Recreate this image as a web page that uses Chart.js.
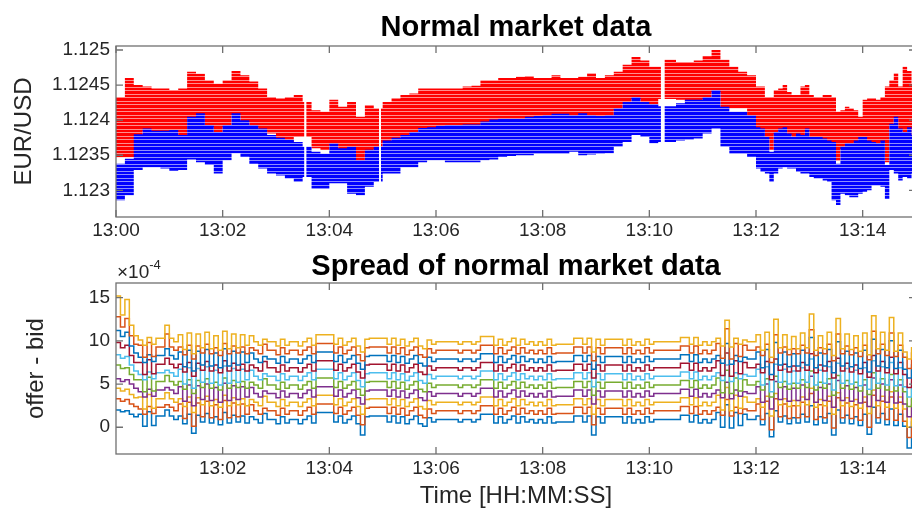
<!DOCTYPE html>
<html>
<head>
<meta charset="utf-8">
<title>Normal market data</title>
<script src="https://cdn.jsdelivr.net/npm/chart.js@4.4.1/dist/chart.umd.min.js"></script>
<style>
  html, body { margin: 0; padding: 0; background: #fff; overflow: hidden; width: 912px; height: 508px; }
  #wrap { position: relative; width: 912px; height: 508px; overflow: hidden; }
  canvas { position: absolute; left: 0; }
  #priceCanvas { top: 0; }
  #spreadCanvas { top: 250px; }
</style>
</head>
<body>
<div id="wrap">
  <canvas id="priceCanvas" width="930" height="250"></canvas>
  <canvas id="spreadCanvas" width="930" height="258"></canvas>
</div>
<script>
// ---- Order book quotes, seconds after 13:00:00 (null = no quotes) ----
const priceTimes = [
  0,10,20,30,40,50,60,70,80,90,
  100,110,120,130,140,150,160,170,180,190,
  200,210,212,213,214,220,230,240,250,260,
  270,280,290,296,297,298,300,310,320,330,
  340,350,360,370,380,390,400,410,420,430,
  440,450,460,470,480,490,500,510,520,530,
  540,550,560,570,580,590,600,610,613,614,
  617,620,630,640,650,660,670,680,690,700,
  710,720,725,730,735,740,745,750,755,760,
  765,770,775,780,785,790,795,800,805,810,
  815,820,825,830,835,840,845,850,855,860,
  865,870,875,880,885,890,895,900
];
// deepest offer level
const offerHigh = [
  1.12433,1.12460,1.12450,1.12448,1.12445,1.12445,1.12443,1.12445,1.12469,1.12466,
  1.12457,1.12452,1.12457,1.12470,1.12464,1.12455,1.12445,1.12433,1.12431,1.12433,
  1.12436,1.12426,1.12426,null,1.12426,1.12414,1.12412,1.12429,1.12419,1.12426,
  1.12405,1.12421,1.12417,1.12417,null,1.12417,1.12426,1.12431,1.12436,1.12438,
  1.12445,1.12445,1.12445,1.12445,1.12445,1.12448,1.12449,1.12457,1.12457,1.12460,
  1.12460,1.12462,1.12463,1.12460,1.12460,1.12464,1.12460,1.12460,1.12462,1.12467,
  1.12460,1.12464,1.12469,1.12479,1.12490,1.12485,1.12476,1.12476,1.12476,null,
  1.12486,1.12486,1.12483,1.12483,1.12485,1.12491,1.12500,1.12486,1.12476,1.12469,
  1.12464,1.12448,1.12448,1.12433,1.12433,1.12443,1.12445,1.12450,1.12440,1.12436,
  1.12436,1.12448,1.12450,1.12436,1.12433,1.12433,1.12436,1.12436,1.12433,1.12412,
  1.12414,1.12419,1.12417,1.12414,1.12405,1.12429,1.12431,1.12431,1.12429,1.12433,
  1.12448,1.12457,1.12467,1.12448,1.12476,1.12470,1.12452,1.12452
];
// best offer
const offerLow = [
  1.12347,1.12347,1.12347,1.12385,1.12382,1.12382,1.12383,1.12376,1.12402,1.12407,
  1.12390,1.12380,1.12390,1.12407,1.12397,1.12390,1.12385,1.12381,1.12372,1.12369,
  1.12376,1.12376,1.12376,null,1.12376,1.12360,1.12358,1.12364,1.12357,1.12359,
  1.12340,1.12355,1.12359,1.12359,null,1.12359,1.12368,1.12372,1.12376,1.12380,
  1.12386,1.12387,1.12389,1.12390,1.12390,1.12391,1.12391,1.12395,1.12398,1.12399,
  1.12399,1.12399,1.12402,1.12403,1.12404,1.12406,1.12406,1.12404,1.12407,1.12404,
  1.12403,1.12404,1.12414,1.12423,1.12430,1.12423,1.12420,1.12430,1.12430,null,
  1.12430,1.12430,1.12429,1.12426,1.12426,1.12430,1.12440,1.12416,1.12417,1.12417,
  1.12404,1.12387,1.12385,1.12373,1.12358,1.12380,1.12385,1.12387,1.12378,1.12373,
  1.12378,1.12376,1.12385,1.12373,1.12373,1.12373,1.12371,1.12368,1.12366,1.12342,
  1.12359,1.12364,1.12364,1.12368,1.12373,1.12373,1.12368,1.12366,1.12364,1.12368,
  1.12340,1.12392,1.12402,1.12385,1.12380,1.12387,1.12376,1.12376
];
// best bid
const bidHigh = [
  1.12338,1.12345,1.12380,1.12388,1.12385,1.12385,1.12386,1.12379,1.12405,1.12410,
  1.12393,1.12383,1.12393,1.12410,1.12400,1.12393,1.12388,1.12379,1.12375,1.12372,
  1.12369,1.12362,1.12362,null,1.12362,1.12355,1.12352,1.12367,1.12360,1.12362,
  1.12343,1.12358,1.12362,1.12362,null,1.12362,1.12371,1.12375,1.12379,1.12383,
  1.12389,1.12390,1.12392,1.12393,1.12393,1.12394,1.12394,1.12398,1.12401,1.12402,
  1.12402,1.12402,1.12405,1.12406,1.12407,1.12409,1.12409,1.12407,1.12410,1.12407,
  1.12406,1.12407,1.12417,1.12426,1.12433,1.12426,1.12423,1.12420,1.12420,null,
  1.12420,1.12420,1.12424,1.12429,1.12429,1.12433,1.12443,1.12419,1.12412,1.12412,
  1.12407,1.12390,1.12388,1.12376,1.12355,1.12383,1.12388,1.12390,1.12381,1.12376,
  1.12381,1.12379,1.12388,1.12376,1.12376,1.12376,1.12374,1.12371,1.12369,1.12338,
  1.12362,1.12367,1.12367,1.12371,1.12376,1.12376,1.12371,1.12369,1.12367,1.12371,
  1.12336,1.12395,1.12405,1.12388,1.12383,1.12390,1.12379,1.12379
];
// deepest bid level
const bidLow = [
  1.12286,1.12293,1.12329,1.12333,1.12333,1.12331,1.12328,1.12329,1.12344,1.12340,
  1.12336,1.12324,1.12343,1.12353,1.12348,1.12338,1.12331,1.12324,1.12321,1.12317,
  1.12312,1.12319,1.12319,null,1.12319,1.12302,1.12302,1.12310,1.12310,1.12295,
  1.12293,1.12305,1.12312,1.12312,null,1.12312,1.12324,1.12324,1.12333,1.12333,
  1.12340,1.12343,1.12343,1.12340,1.12340,1.12340,1.12340,1.12343,1.12344,1.12348,
  1.12349,1.12350,1.12350,1.12352,1.12352,1.12352,1.12352,1.12355,1.12350,1.12351,
  1.12352,1.12353,1.12362,1.12369,1.12379,1.12376,1.12367,1.12369,1.12369,null,
  1.12369,1.12369,1.12371,1.12372,1.12374,1.12381,1.12388,1.12362,1.12352,1.12352,
  1.12348,1.12331,1.12326,1.12324,1.12312,1.12324,1.12331,1.12333,1.12331,1.12331,
  1.12326,1.12324,1.12324,1.12319,1.12317,1.12317,1.12314,1.12312,1.12286,1.12279,
  1.12295,1.12293,1.12290,1.12290,1.12295,1.12298,1.12300,1.12307,1.12307,1.12305,
  1.12288,1.12329,1.12324,1.12314,1.12319,1.12317,1.12324,1.12324
];

// ---- Spread per book level (offer - bid), in units of 1e-4 ----
const spreadTimes = [
  0,5,10,15,20,25,30,35,40,45,50,55,60,65,70,75,80,85,90,95,
  100,105,110,115,120,125,130,135,140,145,150,155,160,165,170,175,180,185,190,195,
  200,205,210,215,220,225,230,235,240,245,250,255,260,265,270,275,280,285,290,295,
  300,305,310,315,320,325,330,335,340,345,350,355,360,365,370,375,380,385,390,395,
  400,405,410,415,420,425,430,435,440,445,450,455,460,465,470,475,480,485,490,495,
  500,505,510,515,520,525,530,535,540,545,550,555,560,565,570,575,580,585,590,595,
  600,605,610,615,620,625,630,635,640,645,650,655,660,665,670,675,680,685,690,695,
  700,705,710,715,720,725,730,735,740,745,750,755,760,765,770,775,780,785,790,795,
  800,805,810,815,820,825,830,835,840,845,850,855,860,865,870,875,880,885,890,895,
  900
];
const spreadL1 = [
  2.0,1.8,1.9,1.5,1.2, 1.5,0.1,1.8,0.2,1.3, 1.3,2.0,1.3,0.9,1.3, 0.4,1.5,-0.7,1.4,0.6,
  1.6,0.5,1.2,0.3,1.7, 0.5,1.4,0.6,1.3,0.5, 1.2,0.9,0.5,1.6,0.9, 0.9,0.4,1.2,0.5,0.9,
  0.9,0.4,0.9,1.3,0.5, 1.7,1.7,1.7,1.7,0.6, 1.3,0.5,0.9,1.3,0.4, -0.9,1.2,1.3,1.3,1.3,
  1.3,0.6,1.3,0.5,1.2, 0.4,0.9,1.3,0.4,0.1, 1.1,0.6,0.9,0.9,0.9, 0.9,0.9,0.6,0.9,0.9,
  0.6,0.9,1.5,1.5,1.5, 0.5,1.2,0.5,0.9,1.3, 0.5,1.2,0.6,0.9,0.5, 0.9,0.5,1.2,0.5,0.6,
  0.6,0.6,0.6,1.3,1.3, 0.6,1.3,-0.9,1.2,0.5, 1.2,1.2,1.2,1.2,0.5, 1.2,0.5,0.9,0.5,1.2,
  0.6,0.9,0.9,0.9,0.9, 0.9,0.9,1.4,1.4,0.6, 1.4,0.5,0.9,0.5,0.9, 1.7,0.0,2.6,-0.1,1.7,
  0.2,1.5,0.9,0.9,1.3, 0.3,1.6,-1.1,1.9,0.6, 1.3,0.4,1.1,0.5,1.5, 0.6,2.5,0.3,1.2,0.5,
  1.6,-0.9,2.0,0.5,1.4, 0.4,1.2,0.2,1.5,-0.8, 2.3,0.5,1.6,0.3,2.1, 0.2,1.5,0.1,-2.4,0.6,
  1.0
];
const spreadL2 = [
  3.3,3.0,3.2,2.7,2.4, 2.1,1.5,2.4,1.6,2.3, 2.3,2.6,2.3,1.9,2.7, 1.0,2.9,0.1,2.8,1.2,
  3.0,1.1,2.6,0.9,3.1, 1.1,2.8,1.2,2.7,1.5, 2.6,1.9,1.5,2.2,1.9, 1.9,1.4,2.2,1.5,1.9,
  1.9,1.4,1.9,2.3,1.5, 2.7,2.7,2.7,2.7,1.6, 2.3,1.5,1.9,2.3,1.4, 0.3,2.2,2.3,2.3,2.3,
  2.3,1.6,2.3,1.5,2.2, 1.4,1.9,2.3,1.4,1.1, 2.1,1.6,1.9,1.9,1.9, 1.9,1.9,1.6,1.9,1.9,
  1.6,1.9,2.5,2.5,2.5, 1.5,2.2,1.5,1.9,2.3, 1.5,2.2,1.6,1.9,1.5, 1.9,1.5,2.2,1.5,1.6,
  1.6,1.6,1.6,2.3,2.3, 1.6,2.3,0.3,2.2,1.5, 2.2,2.2,2.2,2.2,1.5, 2.2,1.5,1.9,1.5,2.2,
  1.6,1.9,1.9,1.9,1.9, 1.9,1.9,2.4,2.4,1.6, 2.4,1.5,1.9,1.5,1.9, 2.3,1.4,3.2,1.3,2.3,
  1.6,2.1,1.9,1.9,2.7, 0.9,3.0,-0.3,3.3,1.2, 2.7,1.0,2.5,1.1,2.9, 1.2,3.9,0.9,2.6,1.1,
  3.0,-0.1,3.4,1.1,2.8, 1.0,2.6,0.8,2.9,0.0, 3.7,1.1,3.0,0.9,3.5, 0.8,2.9,0.7,-1.2,1.2,
  2.4
];
const spreadL3 = [
  4.5,4.2,4.4,3.8,3.4, 3.5,2.1,3.8,2.2,3.3, 3.3,4.0,3.3,2.9,3.3, 2.4,3.5,1.7,3.4,2.6,
  3.6,2.5,3.2,2.3,3.7, 2.5,3.4,2.6,3.3,2.5, 3.2,2.9,2.5,3.6,2.9, 2.9,2.4,3.2,2.5,2.9,
  2.9,2.4,2.9,3.3,2.5, 3.7,3.7,3.7,3.7,2.6, 3.3,2.5,2.9,3.3,2.4, 1.5,3.2,3.3,3.3,3.3,
  3.3,2.6,3.3,2.5,3.2, 2.4,2.9,3.3,2.4,2.1, 3.1,2.6,2.9,2.9,2.9, 2.9,2.9,2.6,2.9,2.9,
  2.6,2.9,3.5,3.5,3.5, 2.5,3.2,2.5,2.9,3.3, 2.5,3.2,2.6,2.9,2.5, 2.9,2.5,3.2,2.5,2.6,
  2.6,2.6,2.6,3.3,3.3, 2.6,3.3,1.5,3.2,2.5, 3.2,3.2,3.2,3.2,2.5, 3.2,2.5,2.9,2.5,3.2,
  2.6,2.9,2.9,2.9,2.9, 2.9,2.9,3.4,3.4,2.6, 3.4,2.5,2.9,2.5,2.9, 3.7,2.0,4.6,1.9,3.7,
  2.2,3.5,2.9,2.9,3.3, 2.3,3.6,1.3,3.9,2.6, 3.3,2.4,3.1,2.5,3.5, 2.6,4.5,2.3,3.2,2.5,
  3.6,1.5,4.0,2.5,3.4, 2.4,3.2,2.2,3.5,1.6, 4.3,2.5,3.6,2.3,4.1, 2.2,3.5,2.1,0.0,2.6,
  3.0
];
const spreadL4 = [
  5.6,5.3,5.5,5.0,4.5, 4.1,3.5,4.4,3.6,4.3, 4.3,4.6,4.3,3.9,4.7, 3.0,4.9,2.5,4.8,3.2,
  5.0,3.1,4.6,2.9,5.1, 3.1,4.8,3.2,4.7,3.5, 4.6,3.9,3.5,4.2,3.9, 3.9,3.4,4.2,3.5,3.9,
  3.9,3.4,3.9,4.3,3.5, 4.7,4.7,4.7,4.7,3.6, 4.3,3.5,3.9,4.3,3.4, 2.7,4.2,4.3,4.3,4.3,
  4.3,3.6,4.3,3.5,4.2, 3.4,3.9,4.3,3.4,3.1, 4.1,3.6,3.9,3.9,3.9, 3.9,3.9,3.6,3.9,3.9,
  3.6,3.9,4.5,4.5,4.5, 3.5,4.2,3.5,3.9,4.3, 3.5,4.2,3.6,3.9,3.5, 3.9,3.5,4.2,3.5,3.6,
  3.6,3.6,3.6,4.3,4.3, 3.6,4.3,2.7,4.2,3.5, 4.2,4.2,4.2,4.2,3.5, 4.2,3.5,3.9,3.5,4.2,
  3.6,3.9,3.9,3.9,3.9, 3.9,3.9,4.4,4.4,3.6, 4.4,3.5,3.9,3.5,3.9, 4.3,3.4,5.2,3.3,4.3,
  3.6,4.1,3.9,3.9,4.7, 2.9,5.0,2.1,5.3,3.2, 4.7,3.0,4.5,3.1,4.9, 3.2,5.9,2.9,4.6,3.1,
  5.0,2.3,5.4,3.1,4.8, 3.0,4.6,2.8,4.9,2.4, 5.7,3.1,5.0,2.9,5.5, 2.8,4.9,2.7,1.2,3.2,
  4.4
];
const spreadL5 = [
  7.2,6.8,6.9,6.1,5.5, 5.5,4.1,5.8,4.2,5.3, 5.3,6.0,5.3,4.9,5.3, 4.4,5.5,3.9,5.4,4.6,
  5.6,4.5,5.2,4.3,5.7, 4.5,5.4,4.6,5.3,4.5, 5.2,4.9,4.5,5.6,4.9, 4.9,4.4,5.2,4.5,4.9,
  4.9,4.4,4.9,5.3,4.5, 5.7,5.7,5.7,5.7,4.6, 5.3,4.5,4.9,5.3,4.4, 3.7,5.2,5.3,5.3,5.3,
  5.3,4.6,5.3,4.5,5.2, 4.4,4.9,5.3,4.4,4.1, 5.1,4.6,4.9,4.9,4.9, 4.9,4.9,4.6,4.9,4.9,
  4.6,4.9,5.5,5.5,5.5, 4.5,5.2,4.5,4.9,5.3, 4.5,5.2,4.6,4.9,4.5, 4.9,4.5,5.2,4.5,4.6,
  4.6,4.6,4.6,5.3,5.3, 4.6,5.3,3.7,5.2,4.5, 5.2,5.2,5.2,5.2,4.5, 5.2,4.5,4.9,4.5,5.2,
  4.6,4.9,4.9,4.9,4.9, 4.9,4.9,5.4,5.4,4.6, 5.4,4.5,4.9,4.5,4.9, 5.7,4.0,6.6,3.9,5.7,
  4.2,5.5,4.9,4.9,5.3, 4.3,5.6,3.5,5.9,4.6, 5.3,4.4,5.1,4.5,5.5, 4.6,6.5,4.3,5.2,4.5,
  5.6,3.7,6.0,4.5,5.4, 4.4,5.2,4.2,5.5,3.8, 6.3,4.5,5.6,4.3,6.1, 4.2,5.5,4.1,2.4,4.6,
  5.0
];
const spreadL6 = [
  8.4,8.0,8.2,7.2,6.5, 6.1,5.5,6.4,5.6,6.3, 6.3,6.6,6.3,5.9,6.7, 5.0,6.9,4.5,6.8,5.2,
  7.0,5.1,6.6,4.9,7.1, 5.1,6.8,5.2,6.7,5.5, 6.6,5.9,5.5,6.2,5.9, 5.9,5.4,6.2,5.5,5.9,
  5.9,5.4,5.9,6.3,5.5, 6.7,6.7,6.7,6.7,5.6, 6.3,5.5,5.9,6.3,5.4, 4.7,6.2,6.3,6.3,6.3,
  6.3,5.6,6.3,5.5,6.2, 5.4,5.9,6.3,5.4,5.1, 6.1,5.6,5.9,5.9,5.9, 5.9,5.9,5.6,5.9,5.9,
  5.6,5.9,6.5,6.5,6.5, 5.5,6.2,5.5,5.9,6.3, 5.5,6.2,5.6,5.9,5.5, 5.9,5.5,6.2,5.5,5.6,
  5.6,5.6,5.6,6.3,6.3, 5.6,6.3,4.7,6.2,5.5, 6.2,6.2,6.2,6.2,5.5, 6.2,5.5,5.9,5.5,6.2,
  5.6,5.9,5.9,5.9,5.9, 5.9,5.9,6.4,6.4,5.6, 6.4,5.5,5.9,5.5,5.9, 6.3,5.4,7.2,5.3,6.3,
  5.6,6.1,5.9,5.9,6.7, 4.9,7.0,4.1,7.3,5.2, 6.7,5.0,6.5,5.1,6.9, 5.2,7.9,4.9,6.6,5.1,
  7.0,4.3,7.4,5.1,6.8, 5.0,6.6,4.8,6.9,4.4, 7.7,5.1,7.0,4.9,7.5, 4.8,6.9,4.7,3.5,5.2,
  6.4
];
const spreadL7 = [
  9.8,9.2,9.5,8.3,7.5, 7.5,6.1,7.8,6.2,7.3, 7.3,8.0,7.3,6.9,7.3, 6.4,7.5,5.9,7.4,6.6,
  7.6,6.5,7.2,6.3,7.7, 6.5,7.4,6.6,7.3,6.5, 7.2,6.9,6.5,7.6,6.9, 6.9,6.4,7.2,6.5,6.9,
  6.9,6.4,6.9,7.3,6.5, 7.7,7.7,7.7,7.7,6.6, 7.3,6.5,6.9,7.3,6.4, 5.7,7.2,7.3,7.3,7.3,
  7.3,6.6,7.3,6.5,7.2, 6.4,6.9,7.3,6.4,6.1, 7.1,6.6,6.9,6.9,6.9, 6.9,6.9,6.6,6.9,6.9,
  6.6,6.9,7.5,7.5,7.5, 6.5,7.2,6.5,6.9,7.3, 6.5,7.2,6.6,6.9,6.5, 6.9,6.5,7.2,6.5,6.6,
  6.6,6.6,6.6,7.3,7.3, 6.6,7.3,5.7,7.2,6.5, 7.2,7.2,7.2,7.2,6.5, 7.2,6.5,6.9,6.5,7.2,
  6.6,6.9,6.9,6.9,6.9, 6.9,6.9,7.4,7.4,6.6, 7.4,6.5,6.9,6.5,6.9, 7.7,6.0,8.6,5.9,7.7,
  6.2,7.5,6.9,6.9,7.3, 6.3,7.6,5.5,7.9,6.6, 7.3,6.4,7.1,6.5,7.5, 6.6,8.5,6.3,7.2,6.5,
  7.6,5.7,8.0,6.5,7.4, 6.4,7.2,6.2,7.5,5.8, 8.3,6.5,7.6,6.3,8.1, 6.2,7.5,6.1,4.6,6.6,
  7.0
];
const spreadL8 = [
  11.2,10.5,11.0,9.4,8.6, 8.1,7.5,8.4,7.6,8.3, 8.3,9.1,8.3,7.9,8.7, 7.0,8.9,6.5,8.8,7.2,
  9.0,7.1,8.6,6.9,9.1, 7.1,8.8,7.2,8.7,7.5, 8.6,7.9,7.5,8.2,7.9, 7.9,7.4,8.2,7.5,7.9,
  7.9,7.4,7.9,8.3,7.5, 8.7,8.7,8.7,8.7,7.6, 8.3,7.5,7.9,8.3,7.4, 6.7,8.2,8.3,8.3,8.3,
  8.3,7.6,8.3,7.5,8.2, 7.4,7.9,8.3,7.4,7.1, 8.1,7.6,7.9,7.9,7.9, 7.9,7.9,7.6,7.9,7.9,
  7.6,7.9,8.5,8.5,8.5, 7.5,8.2,7.5,7.9,8.3, 7.5,8.2,7.6,7.9,7.5, 7.9,7.5,8.2,7.5,7.6,
  7.6,7.6,7.6,8.3,8.3, 7.6,8.3,6.7,8.2,7.5, 8.2,8.2,8.2,8.2,7.5, 8.2,7.5,7.9,7.5,8.2,
  7.6,7.9,7.9,7.9,7.9, 7.9,7.9,8.4,8.4,7.6, 8.4,7.5,7.9,7.5,7.9, 8.3,7.4,9.7,7.3,8.3,
  7.6,8.1,7.9,7.9,8.7, 6.9,9.0,6.1,9.8,7.2, 8.7,7.0,8.5,7.1,8.9, 7.2,10.4,6.9,8.6,7.1,
  9.0,6.3,9.9,7.1,8.8, 7.0,8.6,6.8,8.9,6.4, 10.2,7.1,9.0,6.9,10.0, 6.8,8.9,6.7,5.7,7.2,
  8.4
];
const spreadL9 = [
  12.8,11.6,12.6,10.6,9.6, 9.5,8.1,9.8,8.2,9.3, 9.3,10.8,9.3,8.9,9.3, 8.4,9.5,7.9,9.4,8.6,
  9.6,8.5,9.2,8.3,9.7, 8.5,9.4,8.6,9.3,8.5, 9.2,8.9,8.5,9.6,8.9, 8.9,8.4,9.2,8.5,8.9,
  8.9,8.4,8.9,9.3,8.5, 9.7,9.7,9.7,9.7,8.6, 9.3,8.5,8.9,9.3,8.4, 7.7,9.2,9.3,9.3,9.3,
  9.3,8.6,9.3,8.5,9.2, 8.4,8.9,9.3,8.4,8.1, 9.1,8.6,8.9,8.9,8.9, 8.9,8.9,8.6,8.9,8.9,
  8.6,8.9,9.5,9.5,9.5, 8.5,9.2,8.5,8.9,9.3, 8.5,9.2,8.6,8.9,8.5, 8.9,8.5,9.2,8.5,8.6,
  8.6,8.6,8.6,9.3,9.3, 8.6,9.3,7.7,9.2,8.5, 9.2,9.2,9.2,9.2,8.5, 9.2,8.5,8.9,8.5,9.2,
  8.6,8.9,8.9,8.9,8.9, 8.9,8.9,9.4,9.4,8.6, 9.4,8.5,8.9,8.5,8.9, 9.7,8.0,11.4,7.9,9.7,
  8.2,9.5,8.9,8.9,9.3, 8.3,9.6,7.5,10.7,8.6, 9.3,8.4,9.1,8.5,9.5, 8.6,11.3,8.3,9.2,8.5,
  9.6,7.7,10.8,8.5,9.4, 8.4,9.2,8.2,9.5,7.8, 11.1,8.5,9.6,8.3,10.9, 8.2,9.5,8.1,6.8,8.6,
  9.0
];
const spreadL10 = [
  15.2,13.0,14.8,11.8,10.6, 10.1,9.5,10.4,9.6,10.3, 10.3,11.8,10.3,9.9,10.7, 9.0,10.9,8.5,10.8,9.2,
  11.0,9.1,10.6,8.9,11.1, 9.1,10.8,9.2,10.7,9.5, 10.6,9.9,9.5,10.2,9.9, 9.9,9.4,10.2,9.5,9.9,
  9.9,9.4,9.9,10.3,9.5, 10.7,10.7,10.7,10.7,9.6, 10.3,9.5,9.9,10.3,9.4, 8.7,10.2,10.3,10.3,10.3,
  10.3,9.6,10.3,9.5,10.2, 9.4,9.9,10.3,9.4,9.1, 10.1,9.6,9.9,9.9,9.9, 9.9,9.9,9.6,9.9,9.9,
  9.6,9.9,10.5,10.5,10.5, 9.5,10.2,9.5,9.9,10.3, 9.5,10.2,9.6,9.9,9.5, 9.9,9.5,10.2,9.5,9.6,
  9.6,9.6,9.6,10.3,10.3, 9.6,10.3,8.7,10.2,9.5, 10.2,10.2,10.2,10.2,9.5, 10.2,9.5,9.9,9.5,10.2,
  9.6,9.9,9.9,9.9,9.9, 9.9,9.9,10.4,10.4,9.6, 10.4,9.5,9.9,9.5,9.9, 10.3,9.4,12.4,9.3,10.3,
  9.6,10.1,9.9,9.9,10.7, 8.9,11.0,8.1,12.5,9.2, 10.7,9.0,10.5,9.1,10.9, 9.2,13.1,8.9,10.6,9.1,
  11.0,8.3,12.6,9.1,10.8, 9.0,10.6,8.8,10.9,8.4, 12.9,9.1,11.0,8.9,12.7, 8.8,10.9,8.7,7.9,9.2,
  10.4
];
const spreadSeries = [spreadL1, spreadL2, spreadL3, spreadL4, spreadL5,
                      spreadL6, spreadL7, spreadL8, spreadL9, spreadL10];

// ---- Axis ticks ----
const priceTicksX = [0, 120, 240, 360, 480, 600, 720, 840];
const priceTickLabelsX = ['13:00', '13:02', '13:04', '13:06', '13:08', '13:10', '13:12', '13:14'];
const priceTicksY = [1.123, 1.1235, 1.124, 1.1245, 1.125];
const priceTickLabelsY = ['1.123', '1.1235', '1.124', '1.1245', '1.125'];
const spreadTicksX = [120, 240, 360, 480, 600, 720, 840];
const spreadTickLabelsX = ['13:02', '13:04', '13:06', '13:08', '13:10', '13:12', '13:14'];
const spreadTicksY = [0, 5, 10, 15];
const spreadTickLabelsY = ['0', '5', '10', '15'];

// ---- Styling ----
const FONT = "'Liberation Sans', Arial, Helvetica, sans-serif";
const TICK_COLOR = '#262626';
const FRAME_COLOR = '#707070';
const lineColors = ['#0072BD', '#D95319', '#EDB120', '#7E2F8E', '#77AC30',
                    '#4DBEEE', '#A2142F', '#0072BD', '#D95319', '#EDB120'];

Chart.defaults.font.family = FONT;
Chart.defaults.animation = false;

// striped fill: rows of quotes packed at half-pip spacing
function stripes(base, light) {
  const c = document.createElement('canvas');
  c.width = 4; c.height = 7;
  const g = c.getContext('2d');
  g.fillStyle = base; g.fillRect(0, 0, 4, 7);
  g.fillStyle = light; g.fillRect(0, 3, 4, 1); g.fillRect(0, 6, 4, 1);
  return g.createPattern(c, 'repeat');
}

const points = (xs, ys) => xs.map((x, i) => ({ x, y: ys[i] }));
const labelFor = (vals, labels) => v => { const k = vals.indexOf(v); return k < 0 ? '' : labels[k]; };

// Box, inward ticks on all four sides, titles and axis labels
const axesDecor = {
  id: 'axesDecor',
  afterDraw(chart, args, o) {
    const ctx = chart.ctx, a = chart.chartArea, xs = chart.scales.x, ys = chart.scales.y;
    const len = 7;
    ctx.save();
    ctx.strokeStyle = FRAME_COLOR;
    ctx.lineWidth = 1.3;
    ctx.beginPath();
    xs.ticks.forEach(t => {
      const p = xs.getPixelForValue(t.value);
      ctx.moveTo(p, a.bottom); ctx.lineTo(p, a.bottom - len);
      ctx.moveTo(p, a.top); ctx.lineTo(p, a.top + len);
    });
    ys.ticks.forEach(t => {
      const p = ys.getPixelForValue(t.value);
      ctx.moveTo(a.left, p); ctx.lineTo(a.left + len, p);
      ctx.moveTo(a.right, p); ctx.lineTo(a.right - len, p);
    });
    ctx.stroke();
    ctx.strokeRect(a.left, a.top, a.right - a.left, a.bottom - a.top);

    const cx = (a.left + a.right) / 2;
    ctx.textBaseline = 'alphabetic';
    ctx.textAlign = 'center';
    ctx.fillStyle = '#000';
    ctx.font = `bold 29px ${FONT}`;
    ctx.fillText(o.title, cx, o.titleY);

    ctx.fillStyle = TICK_COLOR;
    ctx.font = `24px ${FONT}`;
    ctx.save();
    ctx.translate(o.yLabelX, (a.top + a.bottom) / 2);
    ctx.rotate(-Math.PI / 2);
    ctx.fillText(o.yLabel, 0, 0);
    ctx.restore();
    if (o.xLabel) ctx.fillText(o.xLabel, cx, o.xLabelY);

    if (o.exponent) {
      ctx.textAlign = 'left';
      ctx.font = `19px ${FONT}`;
      ctx.fillText('\u00d710', a.left + 1, o.exponentY);
      const w = ctx.measureText('\u00d710').width;
      ctx.font = `13px ${FONT}`;
      ctx.fillText(o.exponent, a.left + 1 + w, o.exponentY - 9);
    }
    ctx.restore();
  }
};

function axisOptions(min, max, tickVals, tickLabels, fit, pad) {
  return {
    type: 'linear', min, max,
    grid: { display: false, drawTicks: false },
    border: { display: false },
    afterBuildTicks: s => { s.ticks = tickVals.map(v => ({ value: v })); },
    afterFit: fit,
    ticks: {
      autoSkip: false, maxRotation: 0, minRotation: 0,
      color: TICK_COLOR, font: { size: 19 }, padding: pad,
      callback: labelFor(tickVals, tickLabels)
    }
  };
}

// ---- Top: bid / offer quotes ----
const redFill = stripes('#ff0000', '#ff8c8c');
const blueFill = stripes('#0000ff', '#8c8cff');
const band = { borderWidth: 0, pointRadius: 0, pointHoverRadius: 0, stepped: true, spanGaps: false };

new Chart(document.getElementById('priceCanvas'), {
  type: 'line',
  data: {
    datasets: [
      { ...band, data: points(priceTimes, offerHigh), fill: 1, backgroundColor: redFill, order: 3 },
      { ...band, data: points(priceTimes, offerLow), fill: false, order: 2 },
      { ...band, data: points(priceTimes, bidHigh), fill: 3, backgroundColor: blueFill, order: 1 },
      { ...band, data: points(priceTimes, bidLow), fill: false, order: 0 }
    ]
  },
  options: {
    responsive: false, devicePixelRatio: 1, events: [],
    layout: { padding: { left: 0, top: 46, right: 14, bottom: 0 } },
    plugins: {
      legend: { display: false }, tooltip: { enabled: false },
      axesDecor: { title: 'Normal market data', titleY: 36, yLabel: 'EUR/USD', yLabelX: 31 }
    },
    scales: {
      x: axisOptions(0, 900, priceTicksX, priceTickLabelsX, s => { s.height = 33; }, 2),
      y: axisOptions(1.12262, 1.125057, priceTicksY, priceTickLabelsY, s => { s.width = 116; }, 6)
    }
  },
  plugins: [axesDecor]
});

// ---- Bottom: spread per level ----
new Chart(document.getElementById('spreadCanvas'), {
  type: 'line',
  data: {
    datasets: spreadSeries.map((vals, k) => ({
      data: points(spreadTimes, vals),
      borderColor: lineColors[k],
      borderWidth: 1.5,
      pointRadius: 0, pointHoverRadius: 0,
      stepped: true, fill: false,
      order: spreadSeries.length - k
    }))
  },
  options: {
    responsive: false, devicePixelRatio: 1, events: [],
    layout: { padding: { left: 0, top: 33, right: 14, bottom: 0 } },
    plugins: {
      legend: { display: false }, tooltip: { enabled: false },
      axesDecor: { title: 'Spread of normal market data', titleY: 25, yLabel: 'offer - bid',
                   yLabelX: 43, xLabel: 'Time [HH:MM:SS]', xLabelY: 253,
                   exponent: '-4', exponentY: 28 }
    },
    scales: {
      x: axisOptions(0, 900, spreadTicksX, spreadTickLabelsX, s => { s.height = 54; }, 3),
      y: axisOptions(-3.1, 16.7, spreadTicksY, spreadTickLabelsY, s => { s.width = 116; }, 6)
    }
  },
  plugins: [axesDecor]
});
</script>
</body>
</html>
